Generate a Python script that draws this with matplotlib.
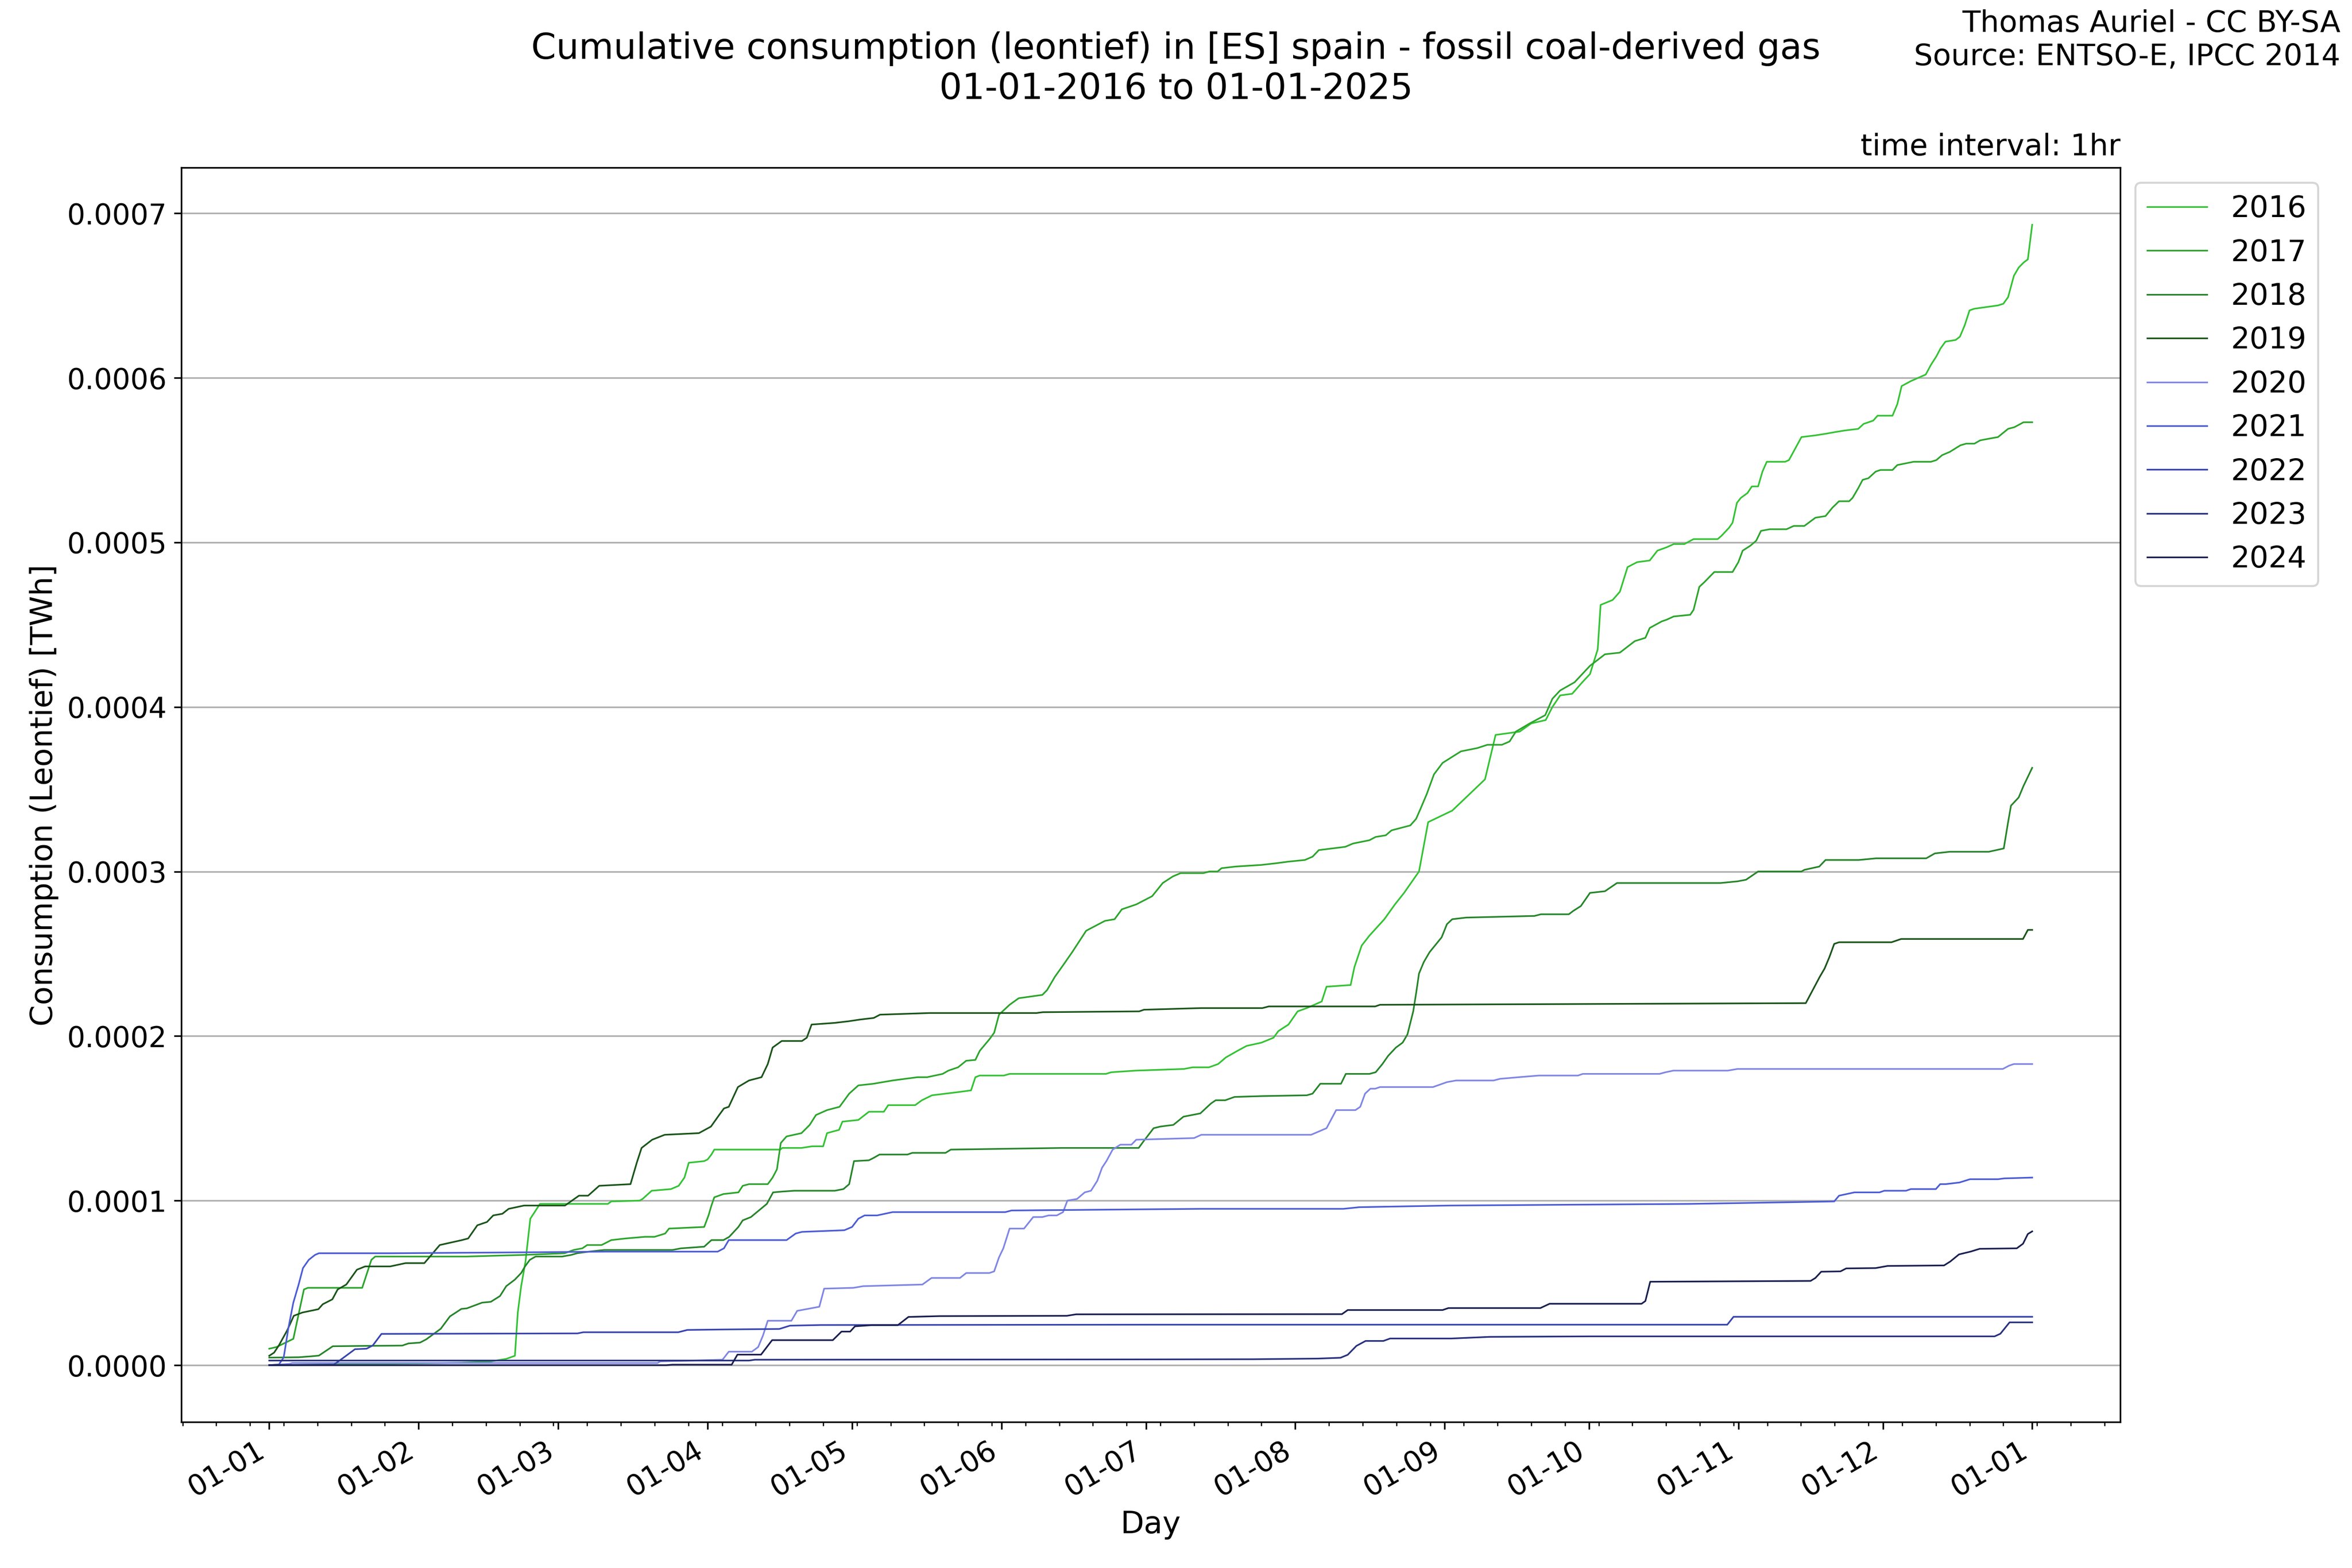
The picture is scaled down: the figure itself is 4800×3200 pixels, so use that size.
#!/usr/bin/env python3
"""
Cumulative consumption (leontief) in Spain - fossil coal-derived gas.
One cumulative curve per year, all drawn on a common Jan -> Jan calendar.
"""

import matplotlib
matplotlib.use("Agg")
import matplotlib.pyplot as plt
import matplotlib.dates as mdates
from matplotlib.ticker import FormatStrFormatter
import pandas as pd

# Day offsets from 01-01 (common calendar) and cumulative values in 1e-4 TWh
DAYS_2016 = [0, 25, 40, 46, 49.2, 51.0, 51.6, 52.3, 53.2, 54.2, 56.2, 70.3, 71.0, 76.9, 77.5, 79.4,
             83.4, 85.0, 86.2, 87.1, 90.3, 91.0, 91.8, 92.4, 106.1, 106.5, 110.5, 112.7, 115.0, 115.8,
             118.3, 119.0, 122.3, 124.5, 127.6, 128.5, 134.1, 135.5, 137.6, 143.2, 145.7, 146.6, 147.5,
             152.5, 153.7, 173.7, 174.8, 179.9, 189.9, 191.7, 195.1, 197.0, 198.6, 201.0, 202.9, 206.0,
             208.5, 209.5, 211.6, 213.5, 215.4, 218.5, 219.5, 224.5, 225.3, 226.8, 228.4, 231.5, 233.7,
             235.6, 238.7, 240.6, 245.6, 249.9, 252.4, 254.6, 259.6, 262.0, 265.0, 266.4, 268.0, 270.5,
             272.6, 274.2, 275.8, 276.4, 278.9, 280.4, 282.0, 284.0, 286.6, 288.2, 290.1, 291.6, 293.8,
             295.7, 300.7, 301.5, 303.1, 303.8, 304.7, 305.5, 306.9, 307.8, 309.1, 310.0, 310.9, 314.7,
             315.5, 318.1, 320.9, 323.1, 325.0, 327.1, 329.9, 331.0, 333.0, 333.9, 337.0, 338.0, 338.9,
             340.8, 343.9, 345.0, 346.1, 347.0, 348.0, 350.1, 351.0, 352.0, 353.0, 354.0, 358.9, 360.0,
             361.0, 362.2, 363.2, 364.2, 365.1, 366]
CONS_2016 = [0.0, 0.008, 0.015, 0.023, 0.038, 0.057, 0.32, 0.48, 0.63, 0.89, 0.98, 0.98, 0.995, 1.0,
             1.01, 1.06, 1.07, 1.09, 1.14, 1.23, 1.24, 1.25, 1.28, 1.31, 1.31, 1.32, 1.32, 1.33, 1.33,
             1.41, 1.43, 1.48, 1.49, 1.54, 1.54, 1.58, 1.58, 1.61, 1.64, 1.66, 1.67, 1.75, 1.76, 1.76,
             1.77, 1.77, 1.78, 1.79, 1.80, 1.81, 1.81, 1.83, 1.87, 1.91, 1.94, 1.96, 1.99, 2.03, 2.07,
             2.15, 2.17, 2.21, 2.30, 2.31, 2.42, 2.55, 2.61, 2.71, 2.80, 2.87, 3.00, 3.30, 3.37, 3.49,
             3.56, 3.83, 3.85, 3.90, 3.92, 4.00, 4.07, 4.08, 4.15, 4.20, 4.35, 4.62, 4.65, 4.70, 4.85,
             4.88, 4.89, 4.95, 4.97, 4.99, 4.99, 5.02, 5.02, 5.04, 5.09, 5.12, 5.24, 5.27, 5.30, 5.34,
             5.34, 5.43, 5.49, 5.49, 5.50, 5.64, 5.65, 5.66, 5.67, 5.68, 5.69, 5.72, 5.74, 5.77, 5.77,
             5.84, 5.95, 5.98, 6.02, 6.08, 6.13, 6.18, 6.22, 6.23, 6.25, 6.32, 6.41, 6.42, 6.44, 6.45,
             6.49, 6.62, 6.67, 6.70, 6.72, 6.93]

DAYS_2017 = [0, 1.5, 5.0, 7.2, 8.0, 19.3, 21.2, 22.0, 40.8, 52.9, 61.3, 63.2, 65.0, 66.0, 69.0, 71.0,
             74.0, 78.0, 80.0, 82.2, 83.0, 90.3, 91.2, 91.8, 92.4, 94.3, 97.4, 98.3, 99.6, 103.5, 104.5,
             105.4, 106.2, 107.4, 110.5, 112.2, 113.5, 115.8, 118.4, 120.4, 122.3, 125.4, 129.4, 134.6,
             136.6, 139.8, 141.0, 143.0, 144.7, 146.6, 147.5, 149.5, 150.5, 151.5, 153.7, 155.6, 160.5,
             161.5, 163.1, 164.8, 166.7, 169.6, 173.5, 175.5, 177.0, 180.0, 183.3, 185.5, 187.6, 189.2,
             193.9, 195.2, 196.9, 197.7, 200.6, 206.0, 209.0, 211.6, 215.0, 216.6, 217.9, 223.4, 225.0,
             228.4, 229.7, 231.8, 233.0, 236.9, 238.1, 239.0, 240.3, 241.8, 243.6, 247.4, 250.8, 252.9,
             255.9, 257.5, 258.8, 261.7, 264.9, 266.4, 268.0, 271.0, 274.2, 277.3, 280.4, 283.5, 285.7,
             286.6, 289.1, 290.1, 291.6, 295.0, 295.7, 296.9, 298.0, 300.0, 303.8, 305.0, 305.9, 307.5,
             308.7, 309.7, 311.5, 315.0, 316.5, 318.7, 321.0, 323.1, 324.5, 325.9, 328.0, 328.7, 329.9,
             330.8, 332.0, 333.5, 334.5, 337.0, 338.0, 341.4, 345.0, 346.1, 347.3, 348.9, 350.0, 351.1,
             352.3, 354.0, 355.2, 357.0, 358.9, 361.0, 362.3, 364.2, 366]
CONS_2017 = [0.10, 0.11, 0.16, 0.46, 0.47, 0.47, 0.64, 0.66, 0.66, 0.67, 0.68, 0.70, 0.71, 0.73, 0.73,
             0.76, 0.77, 0.78, 0.78, 0.80, 0.83, 0.84, 0.91, 0.97, 1.02, 1.04, 1.05, 1.09, 1.10, 1.10,
             1.14, 1.19, 1.35, 1.39, 1.41, 1.46, 1.52, 1.55, 1.57, 1.65, 1.70, 1.71, 1.73, 1.75, 1.75,
             1.77, 1.79, 1.81, 1.85, 1.855, 1.91, 1.98, 2.02, 2.13, 2.19, 2.23, 2.25, 2.28, 2.36, 2.43,
             2.51, 2.64, 2.70, 2.71, 2.77, 2.80, 2.85, 2.93, 2.97, 2.99, 2.99, 3.00, 3.00, 3.02, 3.03,
             3.04, 3.05, 3.06, 3.07, 3.09, 3.13, 3.15, 3.17, 3.19, 3.21, 3.22, 3.25, 3.28, 3.32, 3.38,
             3.47, 3.59, 3.66, 3.73, 3.75, 3.77, 3.77, 3.79, 3.85, 3.90, 3.95, 4.05, 4.10, 4.15, 4.25,
             4.32, 4.33, 4.40, 4.42, 4.48, 4.52, 4.53, 4.55, 4.56, 4.59, 4.73, 4.76, 4.82, 4.82, 4.88,
             4.95, 4.98, 5.01, 5.07, 5.08, 5.08, 5.10, 5.10, 5.15, 5.16, 5.21, 5.25, 5.25, 5.27, 5.33,
             5.38, 5.39, 5.43, 5.44, 5.44, 5.47, 5.49, 5.49, 5.50, 5.53, 5.55, 5.57, 5.59, 5.60, 5.60,
             5.62, 5.63, 5.64, 5.69, 5.70, 5.73, 5.73]

DAYS_2018 = [0, 6.1, 8.4, 10.3, 13.2, 19.6, 27.6, 28.9, 31.3, 32.6, 35.6, 37.5, 39.9, 41.0, 44.2, 46.0,
             47.9, 49.2, 51.0, 52.3, 53.1, 54.1, 55.3, 60.8, 62.7, 63.9, 66.4, 69.5, 83.7, 85.5, 90.3,
             91.8, 94.3, 95.5, 97.4, 98.3, 100.0, 103.3, 104.6, 106.5, 109.0, 117.4, 119.2, 120.4, 121.4,
             124.5, 125.5, 126.7, 132.5, 133.5, 140.4, 141.5, 164.5, 180.5, 181.5, 183.6, 185.0, 187.7,
             189.8, 193.3, 195.5, 196.5, 198.5, 200.4, 206.0, 215.4, 216.6, 218.2, 222.5, 223.5, 228.4,
             229.7, 231.1, 232.3, 233.9, 235.3, 236.3, 237.5, 238.1, 238.7, 239.7, 240.9, 243.4, 244.5,
             245.6, 248.5, 262.7, 264.0, 269.8, 270.7, 272.3, 274.2, 277.3, 279.8, 301.3, 304.8, 306.6,
             309.1, 318.1, 318.7, 321.8, 323.1, 330.0, 333.6, 344.0, 345.8, 348.9, 357.0, 360.1, 361.0,
             361.6, 363.2, 364.2, 366]
CONS_2018 = [0.046, 0.048, 0.053, 0.058, 0.115, 0.117, 0.119, 0.132, 0.137, 0.157, 0.221, 0.296, 0.342,
             0.345, 0.38, 0.385, 0.42, 0.48, 0.52, 0.56, 0.60, 0.64, 0.66, 0.66, 0.67, 0.68, 0.69, 0.70,
             0.70, 0.71, 0.72, 0.76, 0.76, 0.78, 0.84, 0.88, 0.90, 0.98, 1.05, 1.055, 1.06, 1.06, 1.07,
             1.10, 1.24, 1.245, 1.26, 1.28, 1.28, 1.29, 1.29, 1.31, 1.32, 1.32, 1.36, 1.44, 1.45, 1.46,
             1.51, 1.53, 1.59, 1.61, 1.61, 1.63, 1.635, 1.64, 1.65, 1.71, 1.71, 1.77, 1.77, 1.78, 1.83,
             1.88, 1.93, 1.96, 2.01, 2.15, 2.26, 2.38, 2.45, 2.51, 2.60, 2.68, 2.71, 2.72, 2.73, 2.74,
             2.74, 2.76, 2.79, 2.87, 2.88, 2.93, 2.93, 2.94, 2.95, 3.00, 3.00, 3.01, 3.03, 3.07, 3.07,
             3.08, 3.08, 3.11, 3.12, 3.12, 3.14, 3.30, 3.40, 3.45, 3.52, 3.63]

DAYS_2019 = [0, 1.0, 2.0, 3.7, 5.1, 6.9, 10.2, 11.1, 13.1, 14.2, 16.0, 18.2, 19.9, 25.1, 28.3, 32.2,
             35.4, 40.0, 41.3, 43.2, 45.2, 46.5, 48.4, 49.7, 52.9, 61.4, 64.3, 66.2, 68.5, 75.0, 76.3,
             77.3, 79.5, 82.1, 89.2, 91.7, 93.4, 94.4, 95.4, 97.3, 99.6, 102.2, 103.5, 104.5, 106.4,
             110.6, 111.6, 112.6, 117.4, 120.3, 122.6, 125.5, 126.8, 137.2, 159.3, 160.6, 180.6, 181.6,
             193.5, 206.2, 207.5, 229.6, 230.6, 319.0, 321.9, 322.9, 323.9, 324.9, 325.9, 336.8, 338.8,
             364.1, 365.1, 366]
CONS_2019 = [0.057, 0.076, 0.12, 0.21, 0.30, 0.32, 0.34, 0.37, 0.40, 0.46, 0.49, 0.58, 0.60, 0.60, 0.62,
             0.62, 0.73, 0.76, 0.77, 0.85, 0.87, 0.91, 0.92, 0.95, 0.97, 0.97, 1.03, 1.03, 1.09, 1.10,
             1.23, 1.32, 1.37, 1.40, 1.41, 1.45, 1.52, 1.56, 1.57, 1.69, 1.73, 1.75, 1.83, 1.93, 1.97,
             1.97, 1.99, 2.07, 2.08, 2.09, 2.10, 2.11, 2.13, 2.14, 2.14, 2.145, 2.15, 2.16, 2.17, 2.17,
             2.18, 2.18, 2.19, 2.20, 2.36, 2.41, 2.48, 2.56, 2.57, 2.57, 2.59, 2.59, 2.645, 2.645]

DAYS_2020 = [0, 4.2, 4.8, 80.6, 81.2, 94.1, 95.4, 100.2, 101.5, 102.5, 103.5, 108.4, 109.6, 114.2, 115.2,
             121.3, 123.3, 135.6, 137.5, 143.4, 144.7, 149.5, 150.5, 151.5, 152.4, 153.7, 156.7, 158.6,
             160.5, 161.8, 163.5, 164.8, 165.7, 167.7, 169.3, 170.6, 171.9, 172.9, 173.8, 175.1, 176.7,
             179.0, 180.0, 192.0, 193.5, 216.3, 217.9, 219.5, 221.5, 225.5, 226.5, 227.5, 228.6, 229.6,
             230.6, 241.6, 244.5, 246.4, 254.2, 255.5, 259.4, 263.6, 271.7, 272.7, 288.6, 289.9, 291.5,
             302.8, 304.8, 359.9, 361.2, 362.2, 366]
CONS_2020 = [0.0, 0.008, 0.013, 0.013, 0.023, 0.033, 0.082, 0.082, 0.11, 0.18, 0.27, 0.27, 0.33, 0.355,
             0.465, 0.47, 0.48, 0.49, 0.53, 0.53, 0.56, 0.56, 0.57, 0.655, 0.71, 0.83, 0.83, 0.90, 0.90,
             0.91, 0.91, 0.93, 1.00, 1.01, 1.05, 1.06, 1.12, 1.20, 1.24, 1.31, 1.34, 1.34, 1.37, 1.38,
             1.40, 1.40, 1.42, 1.44, 1.55, 1.55, 1.57, 1.65, 1.68, 1.68, 1.69, 1.69, 1.72, 1.73, 1.73,
             1.74, 1.75, 1.76, 1.76, 1.77, 1.77, 1.78, 1.79, 1.79, 1.80, 1.80, 1.82, 1.83, 1.83]

DAYS_2021 = [0, 2.0, 3.0, 4.0, 5.0, 6.1, 7.0, 8.2, 9.5, 10.3, 25.0, 50.0, 70.0, 93.1, 94.4, 95.4, 107.4,
             109.3, 110.6, 119.4, 121.0, 122.3, 123.6, 126.2, 129.4, 152.8, 154.1, 193.5, 223.0, 226.3,
             245.0, 295.0, 315.5, 324.9, 325.9, 329.1, 334.3, 335.3, 339.8, 340.8, 346.0, 346.9, 348.0,
             350.9, 353.1, 358.9, 360.2, 366]
CONS_2021 = [0.0, 0.004, 0.047, 0.23, 0.38, 0.49, 0.59, 0.64, 0.67, 0.68, 0.68, 0.685, 0.69, 0.69, 0.71,
             0.76, 0.76, 0.80, 0.81, 0.82, 0.84, 0.89, 0.91, 0.91, 0.93, 0.93, 0.94, 0.95, 0.95, 0.96,
             0.97, 0.98, 0.99, 0.995, 1.03, 1.05, 1.05, 1.06, 1.06, 1.07, 1.07, 1.10, 1.10, 1.11, 1.13,
             1.13, 1.135, 1.14]

DAYS_2022 = [0, 13.4, 15.3, 17.8, 20.2, 21.5, 23.3, 64.0, 65.2, 84.9, 86.8, 94.8, 105.9, 108.1, 114.5,
             183.2, 302.7, 304.0, 366]
CONS_2022 = [0.0, 0.003, 0.043, 0.097, 0.10, 0.12, 0.19, 0.193, 0.20, 0.20, 0.214, 0.217, 0.22, 0.24,
             0.244, 0.246, 0.246, 0.294, 0.294]

DAYS_2023 = [0, 99.6, 100.8, 183.2, 204.2, 217.7, 222.4, 223.9, 225.7, 227.6, 231.3, 232.7, 245.4, 253.4,
             274.4, 358.2, 359.4, 361.3, 366]
CONS_2023 = [0.028, 0.028, 0.033, 0.035, 0.036, 0.040, 0.045, 0.063, 0.117, 0.147, 0.147, 0.162, 0.162,
             0.172, 0.175, 0.175, 0.191, 0.26, 0.26]

DAYS_2024 = [0, 82.4, 83.7, 96.0, 97.2, 102.1, 104.4, 117.0, 118.8, 120.6, 121.6, 125.0, 130.5, 132.7,
             139.1, 165.6, 167.5, 222.7, 223.9, 243.6, 244.8, 263.9, 265.8, 284.9, 285.7, 286.7, 320.0,
             321.0, 322.2, 326.2, 327.4, 333.5, 336.0, 347.7, 349.0, 350.8, 353.2, 355.1, 362.8, 364.1,
             365.1, 366]
CONS_2024 = [0.0, 0.0, 0.003, 0.003, 0.064, 0.064, 0.152, 0.152, 0.204, 0.204, 0.236, 0.243, 0.243,
             0.293, 0.298, 0.30, 0.309, 0.31, 0.335, 0.335, 0.347, 0.347, 0.373, 0.373, 0.39, 0.507,
             0.512, 0.53, 0.568, 0.57, 0.588, 0.59, 0.603, 0.606, 0.63, 0.673, 0.69, 0.707, 0.71, 0.738,
             0.797, 0.813]

YEARS = ["2016", "2017", "2018", "2019", "2020", "2021", "2022", "2023", "2024"]
ALL_DAYS = [DAYS_2016, DAYS_2017, DAYS_2018, DAYS_2019, DAYS_2020,
            DAYS_2021, DAYS_2022, DAYS_2023, DAYS_2024]
ALL_CONS = [CONS_2016, CONS_2017, CONS_2018, CONS_2019, CONS_2020,
            CONS_2021, CONS_2022, CONS_2023, CONS_2024]
COLORS = ["#34c234", "#2ca42c", "#26842a", "#1a541a",
          "#7f86e4", "#4c5cd4", "#3844ae", "#28307e", "#1a1f50"]

BASE_DATE = pd.Timestamp("2016-01-01")
UNIT = 1e-4  # values above are in 1e-4 TWh


def main():
	fig, ax = plt.subplots(figsize=(16, 32 / 3))
	fig.subplots_adjust(left=0.077, right=0.9015, bottom=0.093, top=0.893)

	for year, days, cons, color in zip(YEARS, ALL_DAYS, ALL_CONS, COLORS):
		dates = BASE_DATE + pd.to_timedelta(days, unit="D")
		values = [c * UNIT for c in cons]
		ax.plot(dates, values, color=color, linewidth=0.8, label=year)

	ax.xaxis.set_major_locator(mdates.MonthLocator())
	ax.xaxis.set_major_formatter(mdates.DateFormatter("%d-%m"))
	ax.xaxis.set_minor_locator(mdates.WeekdayLocator(byweekday=mdates.MO))
	ax.yaxis.set_major_formatter(FormatStrFormatter("%.4f"))
	ax.tick_params(axis="both", which="major", labelsize=14)

	ax.grid(axis="y", color="#b0b0b0", linewidth=0.8)
	ax.set_axisbelow(True)

	ax.set_xlabel("Day", fontsize=15)
	ax.set_ylabel("Consumption (Leontief) [TWh]", fontsize=15)
	ax.set_title("time interval: 1hr", loc="right", fontsize=14.6)

	plt.setp(ax.get_xticklabels(), rotation=30, ha="right")

	ax.legend(loc="upper left", bbox_to_anchor=(1.0, 1.0), fontsize=14.6)

	fig.suptitle("Cumulative consumption (leontief) in [ES] spain - fossil coal-derived gas\n"
				 "01-01-2016 to 01-01-2025", fontsize=17.5, y=0.98)
	fig.text(0.995, 0.994, "Thomas Auriel - CC BY-SA\nSource: ENTSO-E, IPCC 2014",
			 ha="right", va="top", fontsize=14.6)

	fig.savefig("out.png", dpi=300)
	plt.close(fig)


if __name__ == "__main__":
	main()
